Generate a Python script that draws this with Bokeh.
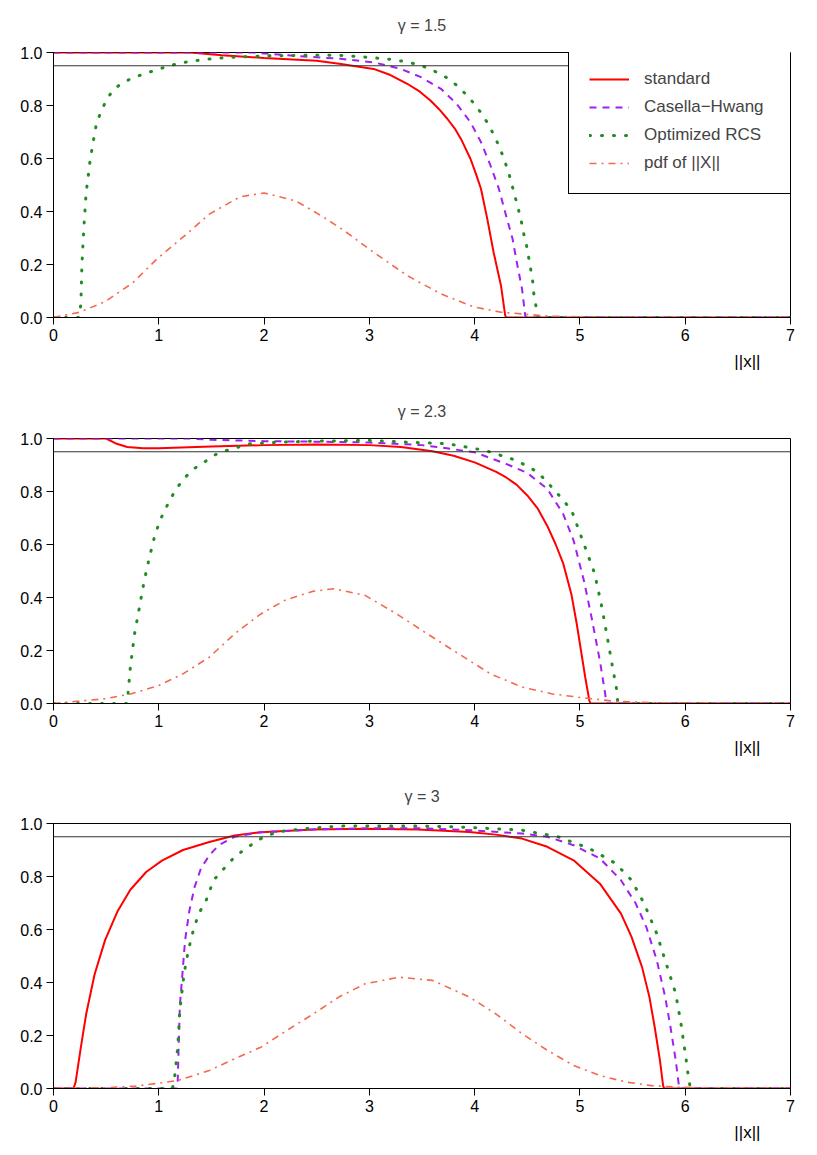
from bokeh.plotting import figure
from bokeh.models import FixedTicker, NumeralTickFormatter, Span, Title, Range1d
from bokeh.layouts import column
from bokeh.embed import file_html
from bokeh.resources import INLINE

FONT = "Liberation Sans"

titles = ["\u03b3 = 1.5", "\u03b3 = 2.3", "\u03b3 = 3"]
x_label = "||x||"
series_names = ["standard", "Casella\u2212Hwang", "Optimized RCS", "pdf of ||X||"]
x_ticks = [0, 1, 2, 3, 4, 5, 6, 7]
y_ticks = [0.0, 0.2, 0.4, 0.6, 0.8, 1.0]
ref_level = 0.95

# ---- gamma = 1.5 ----
std_x1 = [0, 1.3, 1.6, 2.0, 2.5, 2.73, 3.04, 3.2, 3.36, 3.48, 3.58, 3.66, 3.74, 3.81, 3.87, 3.96, 4.01, 4.06, 4.12, 4.18, 4.25, 4.29, 4.3, 7]
std_y1 = [1, 1, 0.99, 0.979, 0.969, 0.957, 0.938, 0.915, 0.882, 0.852, 0.819, 0.787, 0.75, 0.714, 0.674, 0.599, 0.545, 0.486, 0.372, 0.246, 0.121, 0.008, 0, 0]
ch_x1 = [0, 1.9, 2.2, 2.5, 2.73, 3.04, 3.3, 3.49, 3.68, 3.83, 3.96, 4.06, 4.15, 4.23, 4.29, 4.36, 4.4, 4.45, 4.48, 4.49, 7]
ch_y1 = [1, 1, 0.99, 0.982, 0.976, 0.963, 0.938, 0.907, 0.863, 0.806, 0.737, 0.662, 0.574, 0.486, 0.397, 0.297, 0.209, 0.108, 0.008, 0, 0]
rcs_x1 = [0, 0.24, 0.26, 0.27, 0.29, 0.31, 0.35, 0.41, 0.5, 0.57, 0.66, 0.77, 0.88, 0.99, 1.1, 1.22, 1.34, 1.45, 1.57, 1.8, 2.0, 2.5, 2.74, 2.98, 3.21, 3.33, 3.44, 3.55, 3.66, 3.76, 3.85, 3.93, 4.01, 4.08, 4.14, 4.19, 4.24, 4.28, 4.32, 4.35, 4.38, 4.41, 4.44, 4.46, 4.49, 4.51, 4.53, 4.55, 4.56, 4.58, 4.6, 7]
rcs_y1 = [0, 0, 0.05, 0.2, 0.35, 0.47, 0.6, 0.737, 0.82, 0.86, 0.887, 0.907, 0.922, 0.936, 0.95, 0.961, 0.969, 0.974, 0.979, 0.984, 0.987, 0.99, 0.989, 0.982, 0.974, 0.966, 0.957, 0.942, 0.922, 0.899, 0.869, 0.837, 0.8, 0.762, 0.722, 0.683, 0.639, 0.596, 0.551, 0.507, 0.462, 0.416, 0.371, 0.326, 0.279, 0.234, 0.188, 0.142, 0.095, 0.049, 0, 0]
pdf_x1 = [0, 0.25, 0.49, 0.75, 0.98, 1.25, 1.48, 1.77, 2.0, 2.3, 2.56, 2.76, 3.04, 3.36, 3.68, 3.99, 4.25, 4.7, 5.2, 7]
pdf_y1 = [0, 0.02, 0.06, 0.13, 0.22, 0.31, 0.39, 0.455, 0.47, 0.44, 0.38, 0.328, 0.246, 0.158, 0.089, 0.04, 0.02, 0.005, 0.001, 0]

# ---- gamma = 2.3 ----
std_x2 = [0, 0.5, 0.6, 0.7, 0.85, 1.0, 1.5, 2.0, 2.5, 3.0, 3.3, 3.6, 3.8, 4.0, 4.2, 4.3, 4.4, 4.5, 4.6, 4.69, 4.77, 4.84, 4.92, 4.97, 5.01, 5.05, 5.09, 5.1, 7]
std_y2 = [1, 1, 0.98, 0.968, 0.963, 0.963, 0.97, 0.975, 0.977, 0.975, 0.968, 0.952, 0.935, 0.91, 0.875, 0.853, 0.825, 0.785, 0.735, 0.67, 0.6, 0.53, 0.41, 0.3, 0.2, 0.1, 0.01, 0, 0]
ch_x2 = [0, 1.3, 1.5, 2.0, 2.5, 3.0, 3.5, 3.7, 4.0, 4.3, 4.5, 4.69, 4.84, 4.94, 5.04, 5.11, 5.19, 5.24, 5.25, 7]
ch_y2 = [1, 1, 0.995, 0.99, 0.988, 0.985, 0.975, 0.965, 0.948, 0.904, 0.87, 0.81, 0.716, 0.615, 0.46, 0.326, 0.16, 0.036, 0, 0]
rcs_x2 = [0, 0.7, 0.73, 0.77, 0.81, 0.86, 0.91, 0.96, 1.01, 1.07, 1.15, 1.23, 1.33, 1.43, 1.52, 1.62, 1.75, 1.87, 2.2, 2.5, 3.0, 3.36, 3.75, 4.1, 4.4, 4.6, 4.77, 4.92, 5.04, 5.14, 5.21, 5.26, 5.31, 5.35, 5.36, 7]
rcs_y2 = [0, 0, 0.137, 0.263, 0.35, 0.46, 0.55, 0.63, 0.69, 0.74, 0.8, 0.845, 0.885, 0.91, 0.936, 0.952, 0.967, 0.98, 0.987, 0.99, 0.993, 0.986, 0.98, 0.955, 0.917, 0.873, 0.8, 0.73, 0.6, 0.49, 0.36, 0.25, 0.137, 0.05, 0, 0]
pdf_x2 = [0, 0.49, 0.73, 1.0, 1.23, 1.48, 1.72, 1.97, 2.2, 2.46, 2.66, 2.96, 3.26, 3.55, 3.85, 4.15, 4.45, 4.74, 5.04, 5.34, 5.68, 7]
pdf_y2 = [0, 0.018, 0.036, 0.068, 0.112, 0.175, 0.263, 0.338, 0.39, 0.423, 0.433, 0.408, 0.338, 0.263, 0.187, 0.112, 0.062, 0.036, 0.021, 0.008, 0.003, 0]

# ---- gamma = 3 ----
std_x3 = [0, 0.19, 0.21, 0.26, 0.31, 0.39, 0.49, 0.61, 0.73, 0.88, 1.03, 1.23, 1.48, 1.72, 1.97, 2.47, 2.96, 3.46, 3.95, 4.2, 4.45, 4.69, 4.94, 5.19, 5.39, 5.49, 5.59, 5.66, 5.71, 5.76, 5.79, 5.8, 7]
std_y3 = [0, 0, 0.024, 0.156, 0.28, 0.43, 0.56, 0.67, 0.75, 0.817, 0.86, 0.9, 0.93, 0.955, 0.967, 0.977, 0.98, 0.977, 0.968, 0.958, 0.943, 0.912, 0.861, 0.773, 0.66, 0.572, 0.458, 0.345, 0.232, 0.106, 0.011, 0, 0]
ch_x3 = [0, 1.17, 1.18, 1.19, 1.2, 1.23, 1.25, 1.29, 1.34, 1.4, 1.48, 1.57, 1.72, 1.97, 2.5, 3.0, 3.5, 3.95, 4.45, 4.69, 4.94, 5.19, 5.39, 5.53, 5.63, 5.73, 5.81, 5.86, 5.91, 5.94, 5.95, 7]
ch_y3 = [0, 0, 0.03, 0.18, 0.31, 0.46, 0.56, 0.67, 0.76, 0.83, 0.88, 0.918, 0.95, 0.967, 0.978, 0.982, 0.982, 0.975, 0.962, 0.95, 0.918, 0.868, 0.786, 0.698, 0.61, 0.484, 0.345, 0.232, 0.106, 0.011, 0, 0]
rcs_x3 = [0, 1.13, 1.15, 1.18, 1.2, 1.24, 1.28, 1.33, 1.38, 1.45, 1.52, 1.62, 1.72, 1.85, 1.97, 2.12, 2.37, 2.71, 3.0, 3.5, 3.85, 4.2, 4.45, 4.79, 5.09, 5.34, 5.49, 5.61, 5.73, 5.83, 5.91, 5.96, 6.01, 6.03, 6.05, 7]
rcs_y3 = [0, 0, 0.04, 0.156, 0.295, 0.433, 0.52, 0.6, 0.66, 0.71, 0.786, 0.83, 0.874, 0.912, 0.943, 0.968, 0.98, 0.99, 0.991, 0.99, 0.987, 0.98, 0.975, 0.95, 0.906, 0.849, 0.786, 0.698, 0.584, 0.458, 0.358, 0.244, 0.106, 0.043, 0, 0]
pdf_x3 = [0, 0.49, 0.78, 1.0, 1.18, 1.48, 1.72, 1.97, 2.22, 2.47, 2.71, 2.96, 3.28, 3.6, 3.95, 4.2, 4.45, 4.69, 4.94, 5.19, 5.44, 5.68, 5.93, 6.18, 7]
pdf_y3 = [0, 0.003, 0.009, 0.02, 0.03, 0.068, 0.112, 0.156, 0.22, 0.282, 0.345, 0.395, 0.42, 0.408, 0.345, 0.282, 0.207, 0.144, 0.087, 0.049, 0.024, 0.011, 0.005, 0.002, 0]

panels = [
    [(std_x1, std_y1), (ch_x1, ch_y1), (rcs_x1, rcs_y1), (pdf_x1, pdf_y1)],
    [(std_x2, std_y2), (ch_x2, ch_y2), (rcs_x2, rcs_y2), (pdf_x2, pdf_y2)],
    [(std_x3, std_y3), (ch_x3, ch_y3), (rcs_x3, rcs_y3), (pdf_x3, pdf_y3)],
]

styles = [
    dict(line_color="#FF0000", line_width=2, line_dash="solid"),
    dict(line_color="#A020F0", line_width=2, line_dash="7 6"),
    dict(line_color="#228B22", line_width=3, line_dash="1 11", line_cap="round"),
    dict(line_color="#F4694E", line_width=1.6, line_dash="7 5 2 5"),
]

bottom_borders = [69, 68, 66]

figs = []
for i, (title, data) in enumerate(zip(titles, panels)):
    p = figure(frame_width=737, frame_height=265,
               min_border_left=53, min_border_right=27,
               min_border_top=52, min_border_bottom=bottom_borders[i],
               x_range=Range1d(0, 7), y_range=Range1d(0, 1),
               output_backend="svg", toolbar_location=None,
               title=title)
    p.title.align = "center"
    p.title.vertical_align = "top"
    p.title.text_font = FONT
    p.title.text_font_style = "normal"
    p.title.text_font_size = "16px"
    p.title.standoff = 33
    p.grid.visible = False
    p.outline_line_color = "black"
    p.outline_line_width = 1
    p.outline_line_alpha = 1
    p.background_fill_color = "white"
    p.border_fill_color = "white"

    for ax in (p.xaxis[0], p.yaxis[0]):
        ax.axis_line_color = "black"
        ax.major_tick_line_color = "black"
        ax.major_tick_out = 7
        ax.major_tick_in = 0
        ax.minor_tick_line_color = None
        ax.major_label_text_font = FONT
        ax.major_label_text_font_size = "16px"
        ax.major_label_text_color = "black"
        ax.major_label_standoff = 4
    p.xaxis[0].ticker = FixedTicker(ticks=x_ticks)
    p.yaxis[0].ticker = FixedTicker(ticks=y_ticks)
    p.yaxis[0].formatter = NumeralTickFormatter(format="0.0")

    p.add_layout(Span(location=ref_level, dimension="width",
                      line_color="#333333", line_width=1))

    for (xs, ys), st, name in zip(data, styles, series_names):
        kw = dict(st)
        if i == 0:
            kw["legend_label"] = name
        p.line(xs, ys, **kw)

    p.add_layout(Title(text=x_label, align="right", offset=30, standoff=12,
                       text_font=FONT, text_font_size="17px",
                       text_font_style="normal", text_color="black"), "below")

    if i == 0:
        lg = p.legend[0]
        lg.location = (515, 123)
        lg.margin = 0
        lg.padding = 20
        lg.spacing = 8
        lg.glyph_width = 40
        lg.glyph_height = 20
        lg.label_height = 20
        lg.label_width = 130
        lg.label_standoff = 15
        lg.label_text_font = FONT
        lg.label_text_font_size = "17px"
        lg.border_line_color = "black"
        lg.border_line_width = 1
        lg.border_line_alpha = 1
        lg.background_fill_color = "white"
        lg.background_fill_alpha = 1
    figs.append(p)

layout = column(*figs, spacing=0)
open("out.html", "w").write(file_html(layout, INLINE))
